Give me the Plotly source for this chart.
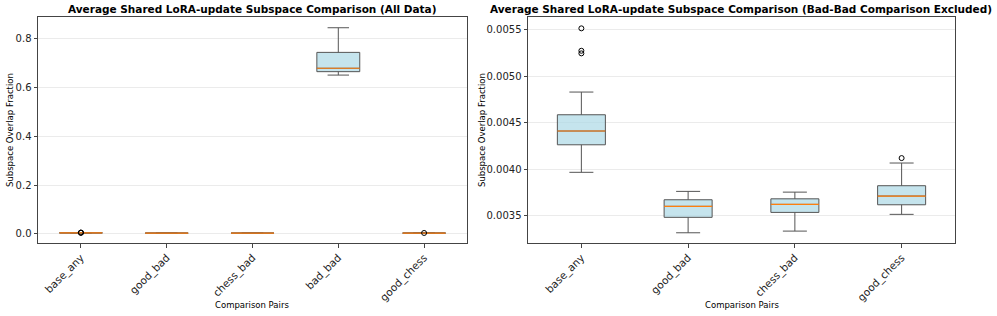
import plotly.graph_objects as go

# ---- data ----
categories = ["base_any", "good_bad", "chess_bad", "bad_bad", "good_chess"]
q1_vals     = [0.004263, 0.003483, 0.003536, 0.665, 0.003618]
median_vals = [0.004411, 0.003601, 0.003622, 0.679, 0.003712]
q3_vals     = [0.004586, 0.003672, 0.003682, 0.744, 0.003823]
low_whisker = [0.003967, 0.003317, 0.003335, 0.651, 0.003515]
high_whisker = [0.004830, 0.003762, 0.003754, 0.845, 0.004067]
outliers = {
    "base_any": [0.005515, 0.005274, 0.005246],
    "good_bad": [],
    "chess_bad": [],
    "bad_bad": [],
    "good_chess": [0.004120],
}
excluded_category = "bad_bad"

left_ticks = [0.0, 0.2, 0.4, 0.6, 0.8]
right_ticks = [0.0035, 0.0040, 0.0045, 0.0050, 0.0055]

FONT = "DejaVu Sans"
W, H = 997, 316

def px_x(v):
    return v / W

def px_y(v):
    return 1 - v / H

fig = go.Figure()

def add_panel(cats, xa, ya, box_width):
    xref = "x" if xa == "xaxis" else "x2"
    yref = "y" if ya == "yaxis" else "y2"
    med_x, med_y = [], []
    out_x, out_y = [], []
    for i, c in enumerate(cats):
        k = categories.index(c)
        fig.add_trace(go.Box(
            x=[i], q1=[q1_vals[k]], median=[median_vals[k]], q3=[q3_vals[k]],
            lowerfence=[low_whisker[k]], upperfence=[high_whisker[k]],
            width=box_width, whiskerwidth=0.5, boxpoints=False,
            fillcolor="rgba(173,216,230,0.7)",
            line=dict(color="#555555", width=1),
            xaxis=xref, yaxis=yref, showlegend=False, hoverinfo="skip",
        ))
        med_x += [i - box_width / 2, i + box_width / 2, None]
        med_y += [median_vals[k], median_vals[k], None]
        for o in outliers[c]:
            out_x.append(i)
            out_y.append(o)
    fig.add_trace(go.Scatter(
        x=med_x, y=med_y, mode="lines",
        line=dict(color="#ff7f0e", width=1.2),
        xaxis=xref, yaxis=yref, showlegend=False, hoverinfo="skip",
    ))
    fig.add_trace(go.Scatter(
        x=out_x, y=out_y, mode="markers",
        marker=dict(symbol="circle-open", size=5, color="black", line=dict(width=1)),
        xaxis=xref, yaxis=yref, showlegend=False, hoverinfo="skip",
    ))

left_cats = categories
right_cats = [c for c in categories if c != excluded_category]
add_panel(left_cats, "xaxis", "yaxis", 0.5)
add_panel(right_cats, "xaxis2", "yaxis2", 0.45)

axis_common = dict(
    showline=True, linecolor="#444444", linewidth=1, mirror=True,
    ticks="outside", ticklen=3.5, tickcolor="#444444", tickwidth=1,
    zeroline=False, automargin=False,
)
yfont = dict(family=FONT, size=10, color="#222222")
xfont = dict(family=FONT, size=10.5, color="#222222")

fig.update_layout(
    width=W, height=H,
    margin=dict(l=0, r=0, t=0, b=0),
    paper_bgcolor="white", plot_bgcolor="white",
    font=dict(family=FONT, color="#222222"),
    xaxis=dict(
        domain=[px_x(38), px_x(467)], range=[-0.5, len(left_cats) - 0.5],
        tickvals=list(range(len(left_cats))), ticktext=left_cats, tickfont=xfont,
        tickangle=-45, showgrid=False, anchor="y", **axis_common,
    ),
    yaxis=dict(
        domain=[px_y(243), px_y(17)], range=[-0.037, 0.889],
        tickvals=left_ticks, ticktext=[f"{v:.1f}" for v in left_ticks], tickfont=yfont,
        showgrid=True, gridcolor="#ebebeb", gridwidth=1, anchor="x", **axis_common,
    ),
    xaxis2=dict(
        domain=[px_x(528), px_x(955)], range=[-0.5, len(right_cats) - 0.5],
        tickvals=list(range(len(right_cats))), ticktext=right_cats, tickfont=xfont,
        tickangle=-45, showgrid=False, anchor="y2", **axis_common,
    ),
    yaxis2=dict(
        domain=[px_y(243), px_y(17)], range=[0.003207, 0.005637],
        tickvals=right_ticks, ticktext=[f"{v:.4f}" for v in right_ticks], tickfont=yfont,
        showgrid=True, gridcolor="#ebebeb", gridwidth=1, anchor="x2", **axis_common,
    ),
)

annots = [
    dict(text="<b>Average Shared LoRA-update Subspace Comparison (All Data)</b>",
         x=px_x(252.5), y=px_y(9), size=10.5, angle=0),
    dict(text="<b>Average Shared LoRA-update Subspace Comparison (Bad-Bad Comparison Excluded)</b>",
         x=px_x(740.5), y=px_y(9), size=10.5, angle=0),
    dict(text="Subspace Overlap Fraction", x=px_x(10), y=px_y(130), size=8.5, angle=-90),
    dict(text="Subspace Overlap Fraction", x=px_x(482), y=px_y(130), size=8.5, angle=-90),
    dict(text="Comparison Pairs", x=px_x(252.5), y=px_y(305), size=8.5, angle=0),
    dict(text="Comparison Pairs", x=px_x(741.5), y=px_y(305), size=8.5, angle=0),
]
for a in annots:
    fig.add_annotation(
        text=a["text"], x=a["x"], y=a["y"], xref="paper", yref="paper",
        xanchor="center", yanchor="middle", showarrow=False, textangle=a["angle"],
        font=dict(family=FONT, size=a["size"], color="black"),
    )

fig.write_html(
    "out.html",
    config={"displayModeBar": False},
    post_script="document.body.style.margin='0';document.body.style.overflow='hidden';",
)
